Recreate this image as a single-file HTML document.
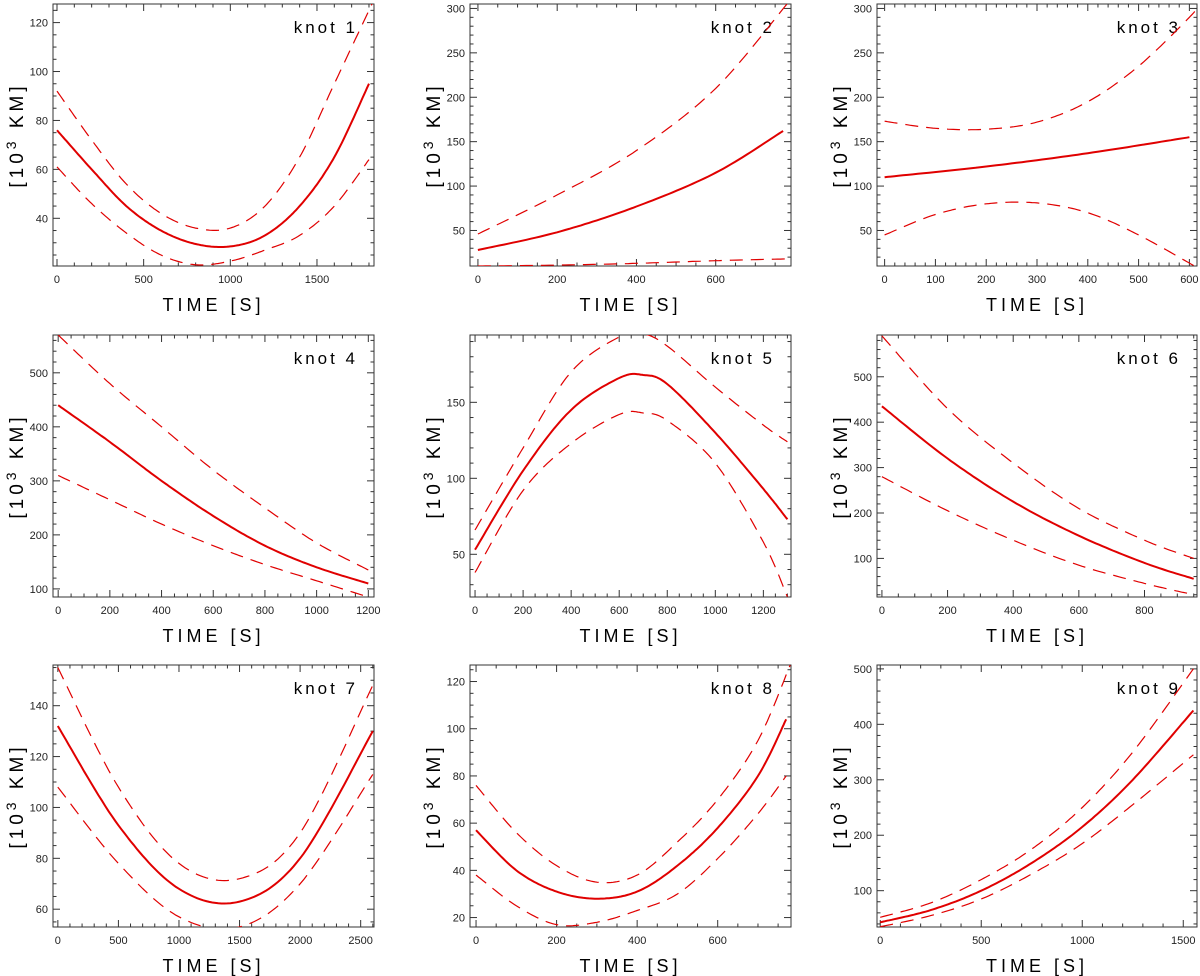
<!DOCTYPE html>
<html><head><meta charset="utf-8"><style>
body{margin:0;background:#fff;}
svg{display:block;font-family:"Liberation Sans",sans-serif;}
</style></head><body>
<svg id="fig" width="1200" height="976" viewBox="0 0 1200 976"></svg>
<script>
// per-panel axis ranges and ticks
const xRanges=[[-23,1829],[-20,790],[-15,615],[-20,1222],[-21,1315],[-15,960],[-40,2610],[-15,782],[-16,1568]];
const yRanges=[[20.5,127.6],[10,305],[10,305],[85,570],[21.9,194.3],[15,592],[53,156],[16,127],[34.5,507]];
const xTicks=[[0,500,1000,1500],[0,200,400,600],[0,100,200,300,400,500,600],[0,200,400,600,800,1000,1200],[0,200,400,600,800,1000,1200],[0,200,400,600,800],[0,500,1000,1500,2000,2500],[0,200,400,600],[0,500,1000,1500]];
const yTicks=[[40,60,80,100,120],[50,100,150,200,250,300],[50,100,150,200,250,300],[100,200,300,400,500],[50,100,150],[100,200,300,400,500],[60,80,100,120,140],[20,40,60,80,100,120],[100,200,300,400,500]];
const xMinor=[100,50,20,50,50,50,100,50,100];
const yMinor=[5,10,10,20,10,20,5,5,20];
// series: time samples and values (10^3 km)
const centerT=[[0,200,400,600,800,1000,1200,1400,1600,1800],[0,200,400,600,770],[0,200,400,600],[0,200,400,600,800,1000,1200],[0,200,400,600,700,800,1000,1200,1300],[0,200,400,600,800,950],[0,500,1000,1500,2000,2600],[0,100,200,300,400,500,600,700,770],[0,250,500,750,1000,1250,1550]];
const centerV=[[76,60,45,35,29.5,28.5,33,45,65,95],[28,48,77,115,162],[110,122,137,155],[440,372,300,235,180,140,110],[53,105,145,166,168,162,130,93,73],[435,320,225,150,90,55],[132,93,68,63,80,130],[57,40,31,28,31,42,58,80,104],[43,65,100,150,215,300,425]];
const upperT=[[0,200,400,600,800,1000,1200,1400,1600,1820],[0,200,400,600,780],[0,100,200,300,400,500,600,615],[0,200,400,600,800,1000,1200],[0,200,400,600,700,800,1000,1200,1300],[0,200,400,600,800,950],[0,500,1000,1500,2000,2600],[0,100,200,300,400,500,600,700,780],[0,250,500,750,1000,1250,1550]];
const upperV=[[92,72,54,42,36,36,45,65,95,128],[46,90,140,210,305],[173,165,164,172,195,235,290,302],[570,480,400,320,250,185,135],[66,120,170,193,195,187,160,135,124],[590,430,310,210,140,100],[155,108,78,72,90,148],[76,56,42,35,38,52,70,95,127],[52,78,120,175,250,350,500]];
const lowerT=[[0,200,400,600,800,1000,1200,1400,1600,1800],[0,200,400,600,780],[0,100,200,300,400,500,610],[0,200,400,600,800,1000,1200],[0,200,400,600,700,800,1000,1200,1300],[0,200,400,600,800,950],[0,500,1000,1500,2000,2600],[0,100,200,300,400,500,600,700,770],[0,250,500,750,1000,1250,1550]];
const lowerV=[[61,46,34,25,21,22.5,27,33,45,64],[10,11,13,16,18],[45,68,80,81,70,45,10],[310,265,220,180,145,115,85],[38,92,123,142,143,138,110,58,22],[280,205,140,85,45,20],[108,78,57,53,70,113],[38,25,17,18,23,30,45,64,80],[35,55,85,130,185,255,345]];

const NS='http://www.w3.org/2000/svg';
const svg=document.getElementById('fig');
const colL=[53,470,877], colR=[374,791,1197], rowT=[4,335,665], rowB=[266,597,927];
function mk(tag,attrs,parent){const e=document.createElementNS(NS,tag);for(const k in attrs)e.setAttribute(k,attrs[k]);(parent||svg).appendChild(e);return e;}
function catmull(pts){
  const out=[];
  for(let i=0;i<pts.length-1;i++){
    const p0=pts[Math.max(0,i-1)],p1=pts[i],p2=pts[i+1],p3=pts[Math.min(pts.length-1,i+2)];
    for(let s=0;s<20;s++){const t=s/20,t2=t*t,t3=t2*t;
      const f=(a,b,c,d)=>0.5*((2*b)+(-a+c)*t+(2*a-5*b+4*c-d)*t2+(-a+3*b-3*c+d)*t3);
      out.push([f(p0[0],p1[0],p2[0],p3[0]),f(p0[1],p1[1],p2[1],p3[1])]);}
  }
  out.push(pts[pts.length-1]);return out;
}
for(let p=0;p<9;p++){
  const c=p%3,r=Math.floor(p/3);
  const L=colL[c],R=colR[c],T=rowT[r],B=rowB[r];
  const [x0,x1]=xRanges[p],[y0,y1]=yRanges[p];
  const sx=v=>L+(v-x0)/(x1-x0)*(R-L), sy=v=>B-(v-y0)/(y1-y0)*(B-T);
  const g=mk('g',{});
  
  
  const clipId='clip'+p;
  const cp=mk('clipPath',{id:clipId},g);mk('rect',{x:L,y:T,width:R-L,height:B-T},cp);
  const tk=mk('g',{stroke:'#333','stroke-width':1},g);
  
  
  for(let v=Math.ceil(x0/xMinor[p])*xMinor[p];v<=x1;v+=xMinor[p]){const X=sx(v),maj=v%(xTicks[p][1]-xTicks[p][0])===0;const l=maj?7:3.5;
    mk('line',{x1:X,x2:X,y1:B,y2:B-l},tk);mk('line',{x1:X,x2:X,y1:T,y2:T+l},tk);}
  for(let v=Math.ceil(y0/yMinor[p])*yMinor[p];v<=y1;v+=yMinor[p]){const Y=sy(v),maj=yTicks[p].includes(v);const l=maj?7:3.5;
    mk('line',{x1:L,x2:L+l,y1:Y,y2:Y},tk);mk('line',{x1:R,x2:R-l,y1:Y,y2:Y},tk);}
  const fr=mk('rect',{x:L,y:T,width:R-L,height:B-T,fill:'none',stroke:'#333','stroke-width':1},g);
  
  
  xTicks[p].forEach(v=>{const t=mk('text',{x:sx(v),y:B+17,'font-size':11,'text-anchor':'middle',fill:'#222'},g);t.textContent=v;
    
    });
  yTicks[p].forEach(v=>{const t=mk('text',{x:L-5,y:sy(v)+4,'font-size':11,'text-anchor':'end',fill:'#222'},g);t.textContent=v;
    
    });
  const xt=mk('text',{x:(L+R)/2,y:B+45,'font-size':18,'text-anchor':'middle','letter-spacing':4,fill:'#000'},g);xt.textContent='TIME [S]';
  
  
  const yt=mk('text',{transform:`translate(${L-30},${(T+B)/2}) rotate(-90)`,'font-size':19,'text-anchor':'middle','letter-spacing':4,fill:'#000'},g);
  yt.innerHTML='[10<tspan dy="-7" font-size="14">3</tspan><tspan dy="7"> KM]</tspan>';
  
  
  const kt=mk('text',{x:R-16,y:T+29,'font-size':17,'text-anchor':'end','letter-spacing':3,fill:'#000'},g);kt.textContent='knot  '+(p+1);
  
  
  const series=[[centerT[p],centerV[p],'center-fit',2,''],[upperT[p],upperV[p],'upper-bound',1.2,'13,8'],[lowerT[p],lowerV[p],'lower-bound',1.2,'13,8']];
  series.forEach(([ts,vs,name,w,dash])=>{
    const pts=catmull(ts.map((t,i)=>[sx(t),sy(vs[i])]));
    const path=mk('path',{d:'M'+pts.map(q=>q[0].toFixed(1)+','+q[1].toFixed(1)).join('L'),fill:'none',stroke:'#e00000','stroke-width':w,'clip-path':`url(#${clipId})`},g);
    if(dash)path.setAttribute('stroke-dasharray',dash);
    
    
  });
}
</script>
</body></html>
